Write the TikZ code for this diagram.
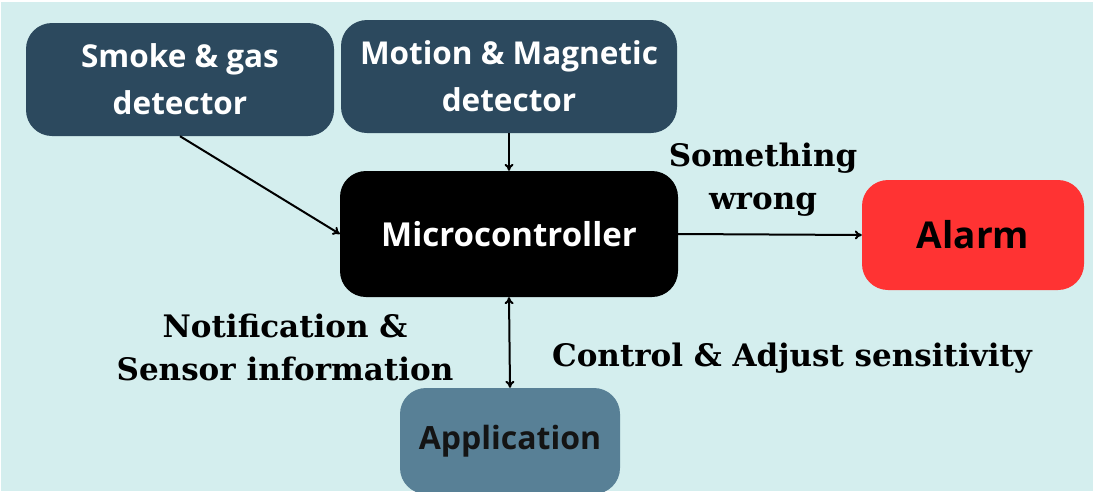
\documentclass[tikz,border=0pt]{standalone}
\usepackage{fontspec}
\usetikzlibrary{arrows.meta}
\newfontfamily\boxfont{Open Sans}
\newfontfamily\labfont{DejaVu Serif}
\definecolor{bgcyan}{RGB}{212,238,238}
\definecolor{darkbox}{RGB}{44,73,94}
\definecolor{appbox}{RGB}{88,128,150}
\definecolor{alarmred}{RGB}{255,51,51}
\tikzset{
  x=1pt, y=-1pt,
  blockbox/.style={rounded corners=26pt, inner sep=0pt, align=center},
  darkblock/.style={blockbox, fill=darkbox, text=white,
    font=\boxfont\bfseries\fontsize{31.5}{47}\selectfont},
  conn/.style={line width=2pt, -{To[length=7pt,width=9pt]}},
  biconn/.style={line width=2pt, {To[length=7pt,width=9pt]}-{To[length=7pt,width=9pt]}},
  lab/.style={align=center, text=black, font=\labfont\bfseries\fontsize{31}{43}\selectfont}
}
\begin{document}
\begin{tikzpicture}
\useasboundingbox (0,0) rectangle (1093,493);
\fill[white] (0,0) rectangle (1093,493);
\fill[bgcyan] (1,2) rectangle (1093,491);
\begin{scope}
\clip (1,2) rectangle (1093,491);
\node[blockbox, fill=appbox, text=black!92, minimum width=220pt, minimum height=106pt,
  font=\boxfont\bfseries\fontsize{32}{34}\selectfont] (app) at (510,441) {Application};
\end{scope}
\node[darkblock, minimum width=308pt, minimum height=113pt] (smoke) at (180,79.5) {Smoke \& gas\\detector};
\node[darkblock, minimum width=336pt, minimum height=113pt] (motion) at (509,76.5) {Motion \& Magnetic\\detector};
\node[blockbox, fill=black, text=white, minimum width=338pt, minimum height=126pt,
  font=\boxfont\bfseries\fontsize{33}{35}\selectfont] (micro) at (509,234) {Microcontroller};
\node[blockbox, fill=alarmred, text=black, minimum width=222pt, minimum height=110pt,
  font=\boxfont\bfseries\fontsize{37}{39}\selectfont] (alarm) at (973,235) {Alarm};
\draw[conn] (smoke.south) -- (micro.west);
\draw[conn] (motion.south) -- (micro.north);
\draw[conn] (micro.east) -- (alarm.west);
\draw[biconn] (micro.south) -- (app.north);
\node[lab] (lwrong) at (763,180) {Something\\wrong};
\node[lab] (lnotif) at (285,347) {Notification \&\\Sensor information};
\node[lab] (lctrl) at (792,358) {Control \& Adjust sensitivity};
\end{tikzpicture}
\end{document}
